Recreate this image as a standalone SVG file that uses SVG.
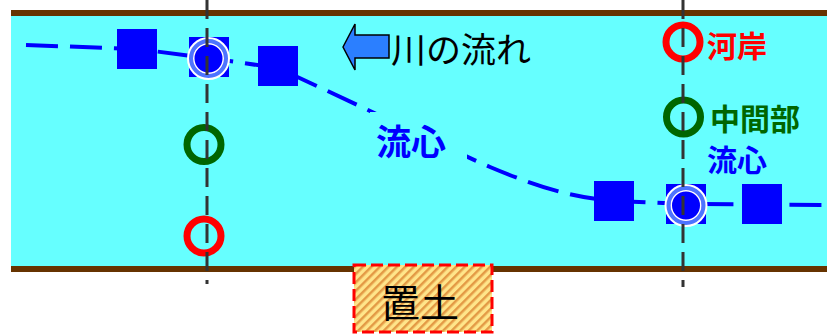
<svg xmlns="http://www.w3.org/2000/svg" width="832" height="334" viewBox="0 0 832 334">
<defs>
<style>
.bank{stroke:#663300;stroke-width:6;fill:none}
.flow{stroke:#0000ff;stroke-width:4;fill:none;stroke-dasharray:32 12}
.sq{fill:#0000ff}
.vline{stroke:#333333;stroke-width:3;stroke-dasharray:19 9;fill:none}
.ring{fill:none;stroke-width:7}
.lbl{font-family:"Noto Sans CJK JP","Noto Sans CJK SC",sans-serif;font-weight:bold;font-size:30px}
.plain{font-family:"Noto Sans CJK JP","Noto Sans CJK SC",sans-serif;font-weight:normal;fill:#000}
</style>
<pattern id="hatch" width="6" height="6" patternUnits="userSpaceOnUse" patternTransform="rotate(45)">
<rect width="6" height="6" fill="#ffe58a"/>
<rect width="2.5" height="6" fill="#e39a45"/>
</pattern>
<g id="marker">
<circle r="20" fill="#0000ff" stroke="#ffffff" stroke-width="3"/>
<circle r="17.5" fill="none" stroke="#4d74ff" stroke-width="4"/>
<circle r="14.75" fill="none" stroke="#ffffff" stroke-width="1.5"/>
</g>
</defs>

<g id="river">
<rect x="11" y="13" width="816" height="256" fill="#66ffff"/>
<line class="bank" x1="11" y1="13" x2="827" y2="13"/>
<line class="bank" x1="11" y1="269" x2="827" y2="269"/>
</g>

<g id="connectors">
<path class="flow" d="M26,45 L137,49 L208,58 L278,68 C380,115 440,145 490,167 C540,188 575,198 614,201 L686,204 L822,205"/>
</g>

<g id="center-label">
<rect x="370" y="112" width="97" height="50" fill="#66ffff"/>
<text class="lbl" x="376" y="155" font-size="35" style="font-size:35px" fill="#0000ff">流心</text>
</g>

<g id="squares">
<rect class="sq" x="117" y="29" width="40" height="40"/>
<rect class="sq" x="189" y="37" width="40" height="40"/>
<rect class="sq" x="258" y="46" width="40" height="40"/>
<rect class="sq" x="594" y="181" width="40" height="40"/>
<rect class="sq" x="666" y="184" width="40" height="40"/>
<rect class="sq" x="742" y="184" width="40" height="40"/>
</g>

<g id="marker-left"><use href="#marker" x="208.5" y="58.5"/></g>
<g id="marker-right"><use href="#marker" x="686" y="205.5"/></g>

<g id="ring-left-mid"><circle class="ring" cx="204" cy="144.5" r="17" stroke="#006600"/></g>
<g id="ring-left-bank"><circle class="ring" cx="204" cy="236" r="17" stroke="#ff0000"/></g>
<g id="ring-right-bank"><circle class="ring" cx="683" cy="42" r="17" stroke="#ff0000"/></g>
<g id="ring-right-mid"><circle class="ring" cx="683.5" cy="117" r="17" stroke="#006600"/></g>

<g id="vertical-lines">
<line class="vline" x1="207" y1="0" x2="207" y2="284"/>
<line class="vline" x1="683" y1="0" x2="683" y2="287"/>
</g>

<g id="labels">
<text class="lbl" x="707" y="57" fill="#ff0000">河岸</text>
<text class="lbl" x="710" y="130" fill="#006600">中間部</text>
<text class="lbl" x="707" y="171" fill="#0000ff">流心</text>
</g>

<g id="flow-direction">
<path d="M343,47 L355,24 L355,35 L389,35 L389,58 L355,58 L355,70 Z" fill="#2b7fff" stroke="#000000" stroke-width="1.5"/>
<text class="plain" x="391" y="63" style="font-size:35px">川の流れ</text>
</g>

<g id="fill-soil">
<rect x="354" y="265" width="138" height="67" fill="url(#hatch)" stroke="#ff0000" stroke-width="3" stroke-dasharray="12 5"/>
<text class="plain" x="420" y="317" text-anchor="middle" style="font-size:39px">置土</text>
</g>
</svg>
